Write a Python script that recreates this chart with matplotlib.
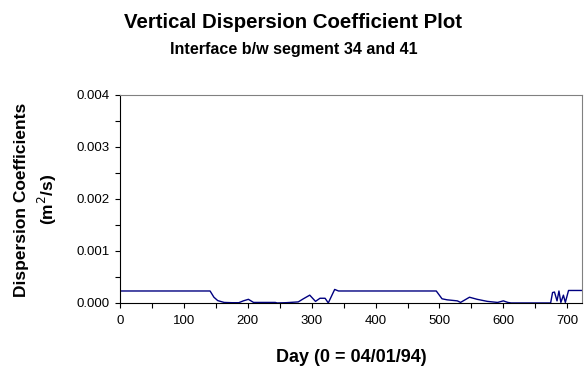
import matplotlib
matplotlib.use('Agg')
import matplotlib.pyplot as plt
from matplotlib.ticker import MultipleLocator, FormatStrFormatter

plt.rcParams['font.family'] = ['Liberation Sans', 'DejaVu Sans']

# 数据
day = [0, 141, 147, 153, 163, 175, 186, 193, 201, 209, 225, 243, 246, 260, 279,
       287, 297, 306, 313, 321, 326, 336, 342, 400, 495, 504, 512, 528, 533, 547,
       559, 575, 591, 600, 607, 612, 640, 674, 677, 680, 684, 687, 690, 694, 697,
       702, 723]
coef = [0.00023, 0.00023, 0.00011, 0.000045, 0.00001, 0.000005, 0.000005, 0.00004,
        0.00007, 0.00001, 0.00001, 0.00001, 0.0, 0.000005, 0.00002,
        0.00008, 0.00015, 0.00003, 0.00009, 0.00009, 0.0, 0.00026, 0.00023, 0.00023,
        0.00023, 0.00008, 0.00006, 0.00004, 0.00001, 0.00011,
        0.00007, 0.00003, 0.00001, 0.00004, 0.00001, 0.0, 0.0, 0.0, 0.0002,
        0.00021, 0.00004, 0.00023, 0.00001, 0.00015, 0.00001,
        0.00024, 0.00024]

fig = plt.figure(figsize=(5.87, 3.69), dpi=100)
ax = fig.add_axes([0.2044, 0.179, 0.787, 0.5637])

ax.plot(day, coef, color='#000080', linewidth=1.0)

ax.set_xlim(0, 723)
ax.set_ylim(0, 0.004)
ax.xaxis.set_major_locator(MultipleLocator(100))
ax.xaxis.set_minor_locator(MultipleLocator(50))
ax.yaxis.set_major_locator(MultipleLocator(0.001))
ax.yaxis.set_minor_locator(MultipleLocator(0.0005))
ax.yaxis.set_major_formatter(FormatStrFormatter('%.3f'))
ax.tick_params(which='both', direction='out', length=3.6, width=0.8, labelsize=9.5)
ax.tick_params(axis='x', pad=5)
ax.tick_params(axis='y', pad=3.6)

for s in ['top', 'right']:
    ax.spines[s].set_color('#808080')
for s in ['left', 'bottom']:
    ax.spines[s].set_color('black')

# 标题
fig.text(0.5, 0.923, 'Vertical Dispersion Coefficient Plot', ha='center', va='baseline',
         fontsize=14.7, fontweight='bold')
fig.text(0.5, 0.855, 'Interface b/w segment 34 and 41', ha='center', va='baseline',
         fontsize=11.6, fontweight='bold')
fig.text(0.598, 0.019, 'Day (0 = 04/01/94)', ha='center', va='baseline',
         fontsize=13, fontweight='bold')
fig.text(0.036, 0.459, 'Dispersion Coefficients', rotation=90, ha='center', va='center',
         fontsize=12.5, fontweight='bold')
fig.text(0.080, 0.459, '(m$^2$/s)', rotation=90, ha='center', va='center',
         fontsize=12.5, fontweight='bold')

plt.savefig('out.png')
